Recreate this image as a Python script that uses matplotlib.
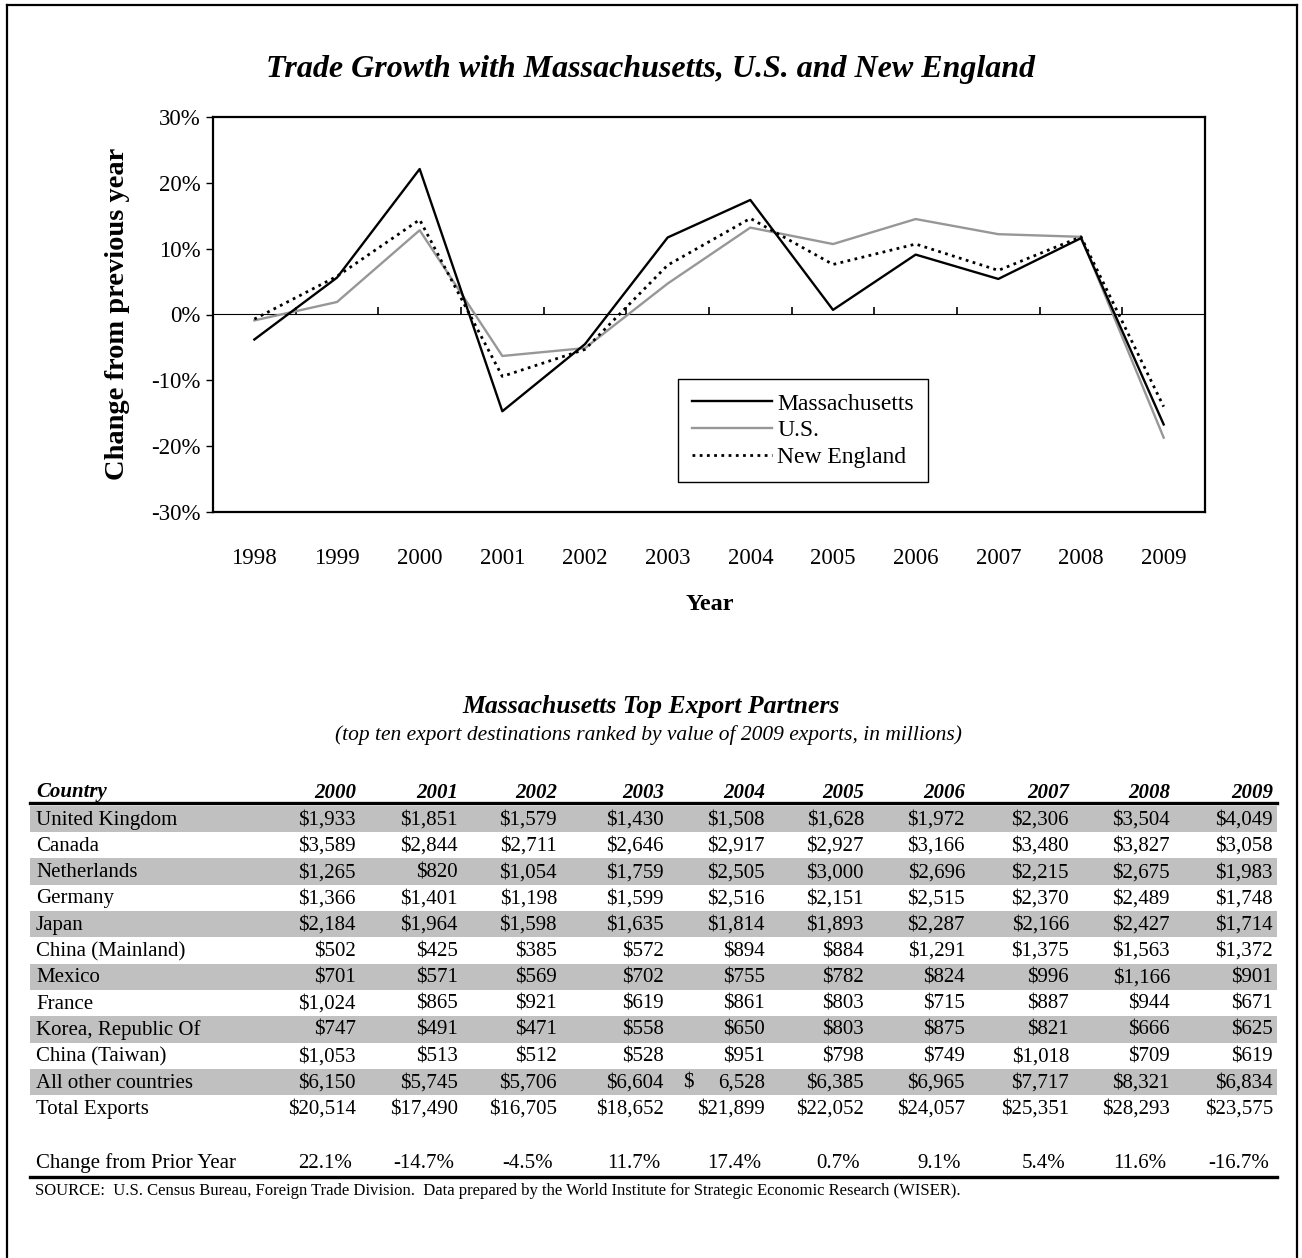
import numpy as np
import matplotlib
matplotlib.use("Agg")
import matplotlib.pyplot as plt
from matplotlib.patches import Rectangle

plt.rcParams['font.family'] = ['Liberation Serif', 'DejaVu Serif']

# ---- chart data (percent change from previous year) ----
years = ["1998", "1999", "2000", "2001", "2002", "2003",
         "2004", "2005", "2006", "2007", "2008", "2009"]
ma_growth = [-3.8, 5.6, 22.1, -14.7, -4.5, 11.7, 17.4, 0.7, 9.1, 5.4, 11.6, -16.7]
us_growth = [-0.9, 1.9, 12.8, -6.3, -5.1, 4.7, 13.2, 10.7, 14.5, 12.2, 11.8, -18.7]
ne_growth = [-0.7, 5.8, 14.4, -9.4, -5.3, 7.5, 14.6, 7.6, 10.7, 6.7, 11.8, -14.0]

# ---- table data (millions of dollars) ----
table_years = ["2000", "2001", "2002", "2003", "2004",
               "2005", "2006", "2007", "2008", "2009"]
countries = ["United Kingdom", "Canada", "Netherlands", "Germany", "Japan",
             "China (Mainland)", "Mexico", "France", "Korea, Republic Of",
             "China (Taiwan)", "All other countries", "Total Exports"]
uk = [1933, 1851, 1579, 1430, 1508, 1628, 1972, 2306, 3504, 4049]
canada = [3589, 2844, 2711, 2646, 2917, 2927, 3166, 3480, 3827, 3058]
netherlands = [1265, 820, 1054, 1759, 2505, 3000, 2696, 2215, 2675, 1983]
germany = [1366, 1401, 1198, 1599, 2516, 2151, 2515, 2370, 2489, 1748]
japan = [2184, 1964, 1598, 1635, 1814, 1893, 2287, 2166, 2427, 1714]
china = [502, 425, 385, 572, 894, 884, 1291, 1375, 1563, 1372]
mexico = [701, 571, 569, 702, 755, 782, 824, 996, 1166, 901]
france = [1024, 865, 921, 619, 861, 803, 715, 887, 944, 671]
korea = [747, 491, 471, 558, 650, 803, 875, 821, 666, 625]
taiwan = [1053, 513, 512, 528, 951, 798, 749, 1018, 709, 619]
all_other = [6150, 5745, 5706, 6604, 6528, 6385, 6965, 7717, 8321, 6834]
total = [20514, 17490, 16705, 18652, 21899, 22052, 24057, 25351, 28293, 23575]
change_pct = [22.1, -14.7, -4.5, 11.7, 17.4, 0.7, 9.1, 5.4, 11.6, -16.7]
rows = [uk, canada, netherlands, germany, japan, china, mexico,
        france, korea, taiwan, all_other, total]
# cells shown in accounting format ("$    6,528")
acct_cells = [(10, 4)]

W, H = 1302, 1258
fig = plt.figure(figsize=(W / 100, H / 100), dpi=100)

def fx(px):
    return px / W

def fy(py):
    return 1 - py / H

# ---- line chart ----
ax = fig.add_axes([fx(213), fy(512), fx(1205 - 213), (512 - 117) / H])
x = np.arange(len(years))
ax.plot(x, ma_growth, color="black", lw=1.7, label="Massachusetts", zorder=4)
ax.plot(x, us_growth, color="#979797", lw=1.7, label="U.S.", zorder=3)
ax.plot(x, ne_growth, color="black", lw=2.0, linestyle=(0, (1, 1.6)),
        label="New England", zorder=5)
ax.set_xlim(-0.5, len(years) - 0.5)
ax.set_ylim(-30, 30)
ax.set_yticks(np.arange(-30, 31, 10))
ax.set_yticklabels([f"{v}%" for v in range(-30, 31, 10)], fontsize=16.5)
ax.set_xticks(x)
ax.set_xticklabels(years, fontsize=16.5)
ax.tick_params(axis="x", length=0, pad=26)
ax.tick_params(axis="y", direction="out", length=5, width=1, pad=4)
for s in ax.spines.values():
    s.set_linewidth(1.6)

# category axis crossing at 0% with boundary tick marks
zero_ax = ax.secondary_xaxis(0.5)
zero_ax.set_xticks(np.arange(-0.5, len(years), 1.0))
zero_ax.set_xticklabels([])
zero_ax.tick_params(direction="out", length=5, width=1.2)
zero_ax.spines["bottom"].set_linewidth(1.2)

leg = ax.legend(loc="upper left", bbox_to_anchor=(fx(678), fy(379)),
                bbox_transform=fig.transFigure, fontsize=17, frameon=True,
                fancybox=False, edgecolor="black", framealpha=1,
                handlelength=3.4, handletextpad=0.2, labelspacing=0.22,
                borderpad=0.6, borderaxespad=0)
leg.get_frame().set_linewidth(1.0)

fig.text(0.5, fy(70), "Trade Growth with Massachusetts, U.S. and New England",
         ha="center", va="center", fontsize=23, fontweight="bold", style="italic")
fig.text(fx(118), fy(314), "Change from previous year", rotation=90,
         ha="center", va="center", fontsize=20.5, fontweight="bold")
fig.text(fx(710), fy(605), "Year", ha="center", va="center",
         fontsize=17.5, fontweight="bold")

# ---- table ----
tx = fig.add_axes([0, 0, 1, 1])
tx.set_xlim(0, W)
tx.set_ylim(H, 0)
tx.axis("off")
tx.patch.set_visible(False)

# outer frame
tx.plot([7, 7], [H, 5], color="black", lw=1.6)
tx.plot([7, 1297], [5, 5], color="black", lw=1.6)
tx.plot([1297, 1297], [5, H], color="black", lw=1.6)

tx.text(651, 706, "Massachusetts Top Export Partners", ha="center", va="center",
        fontsize=18.5, fontweight="bold", style="italic")
tx.text(648, 735, "(top ten export destinations ranked by value of 2009 exports, in millions)",
        ha="center", va="center", fontsize=15.5, style="italic")

col_right = [356, 458, 557, 664, 765, 864, 965, 1069, 1170, 1273]
row_h = 26.3
first_row = 819
label_x = 36
fs = 15
base = 5.5  # baseline offset below row centre

def cell(xp, yc, s, ha="right", **kw):
    tx.text(xp, yc + base, s, ha=ha, va="baseline", fontsize=fs, **kw)

cell(label_x, 792, "Country", ha="left", fontweight="bold", style="italic")
for cx, yr in zip(col_right, table_years):
    cell(cx, 792, yr, fontweight="bold", style="italic")
tx.plot([30, 1277], [803, 803], color="black", lw=2.4)

for i, (name, vals) in enumerate(zip(countries, rows)):
    yc = first_row + i * row_h
    if i % 2 == 0 and i < 11:
        tx.add_patch(Rectangle((30, yc - row_h / 2), 1247, row_h,
                               facecolor="#c0c0c0", edgecolor="none", zorder=0))
    cell(label_x, yc, name, ha="left")
    for j, (cx, v) in enumerate(zip(col_right, vals)):
        if (i, j) in acct_cells:
            cell(col_right[j - 1] + 19, yc, "$", ha="left")
            cell(cx, yc, f"{v:,}")
        else:
            cell(cx, yc, f"${v:,}")

yc = first_row + (len(rows) + 1) * row_h + 2
cell(label_x, yc, "Change from Prior Year", ha="left")
for cx, v in zip(col_right, change_pct):
    cell(cx - 4, yc, f"{v:.1f}%")
tx.plot([30, 1277], [1177, 1177], color="black", lw=2.4)

tx.text(35, 1191, "SOURCE:  U.S. Census Bureau, Foreign Trade Division.  Data prepared by "
        "the World Institute for Strategic Economic Research (WISER).",
        ha="left", va="center", fontsize=12)

fig.savefig("out.png", dpi=100)
